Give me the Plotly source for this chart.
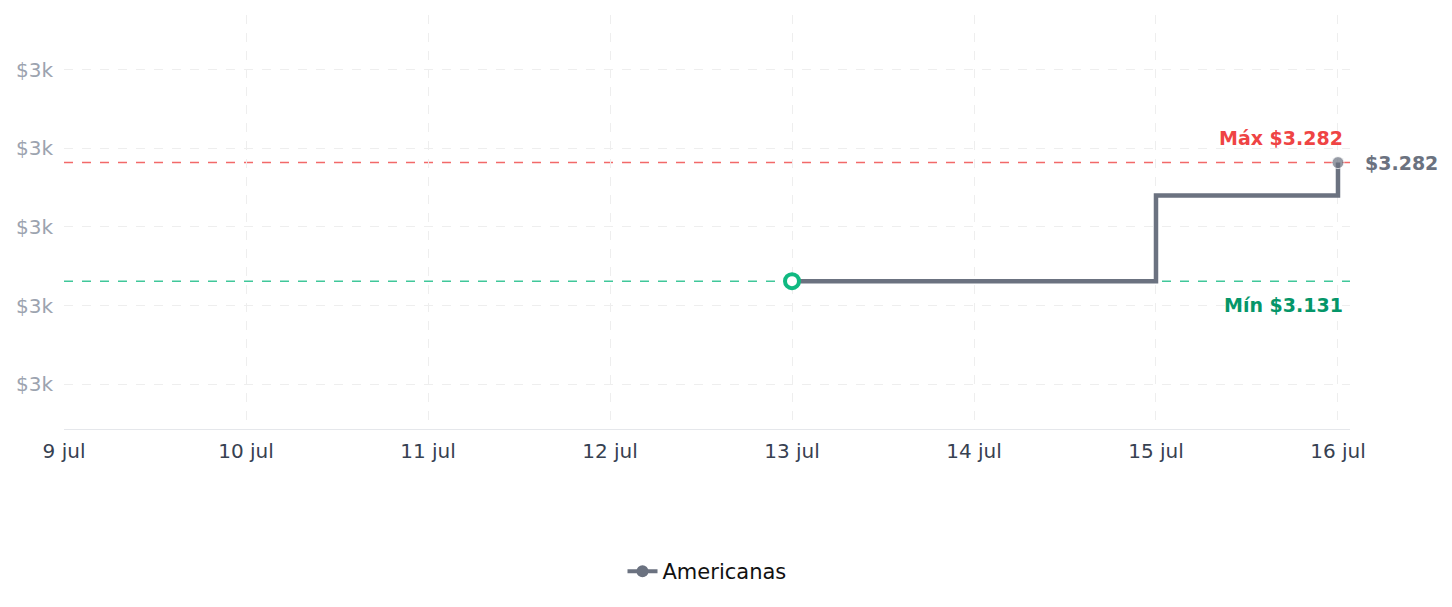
import plotly.graph_objects as go

dates = ["2024-07-13", "2024-07-15", "2024-07-16"]
prices = [3131, 3240, 3282]
store = "Americanas"
max_price = 3282
min_price = 3131
x_tick_vals = ["2024-07-09", "2024-07-10", "2024-07-11", "2024-07-12",
               "2024-07-13", "2024-07-14", "2024-07-15", "2024-07-16"]
x_tick_text = ["9 jul", "10 jul", "11 jul", "12 jul", "13 jul", "14 jul", "15 jul", "16 jul"]
y_tick_vals = [3000, 3100, 3200, 3300, 3400]
y_tick_text = ["$3k", "$3k", "$3k", "$3k", "$3k"]

FONT = "DejaVu Sans"
GRAY = "#6b7280"

fig = go.Figure()

fig.add_trace(go.Scatter(
    x=dates, y=prices, mode="lines+markers", name=store, showlegend=False,
    line=dict(color=GRAY, width=4.5, shape="hv"),
    marker=dict(color=GRAY, size=[0, 0, 12]),
))
fig.add_trace(go.Scatter(
    x=[dates[0]], y=[prices[0]], mode="markers", showlegend=False,
    marker=dict(color="white", size=14, line=dict(color="#10b981", width=4)),
    hoverinfo="skip",
))
# legend entry
fig.add_trace(go.Scatter(
    x=[None], y=[None], mode="lines+markers", name=store,
    line=dict(color=GRAY, width=4), marker=dict(color=GRAY, size=12),
))

fig.add_shape(type="line", xref="paper", yref="y", x0=0, x1=1, y0=max_price, y1=max_price,
              line=dict(color="rgba(239,68,68,0.8)", width=1.5, dash="dash"), layer="below")
fig.add_shape(type="line", xref="paper", yref="y", x0=0, x1=1, y0=min_price, y1=min_price,
              line=dict(color="rgba(16,185,129,0.8)", width=1.5, dash="dash"), layer="below")

fig.add_annotation(x=dates[-1], y=max_price, xref="x", yref="y", text="Máx $3.282",
                   showarrow=False, xanchor="right", yanchor="middle", xshift=7, yshift=25,
                   font=dict(family=FONT, size=19, color="#ef4444", weight="bold"))
fig.add_annotation(x=dates[-1], y=min_price, xref="x", yref="y", text="Mín $3.131",
                   showarrow=False, xanchor="right", yanchor="middle", xshift=7, yshift=-24,
                   font=dict(family=FONT, size=19, color="#059669", weight="bold"))
fig.add_annotation(x=dates[-1], y=prices[-1], xref="x", yref="y", text="$3.282",
                   showarrow=False, xanchor="left", yanchor="middle", xshift=25,
                   font=dict(family=FONT, size=19, color=GRAY, weight="bold"))

fig.update_layout(
    width=1452, height=607,
    margin=dict(l=64, r=102, t=15, b=178),
    paper_bgcolor="white", plot_bgcolor="white",
    font=dict(family=FONT),
    showlegend=True,
    legend=dict(orientation="h", x=0.5, xanchor="center", y=-0.295, yanchor="top",
                font=dict(family=FONT, size=21, color="#111111")),
    xaxis=dict(
        type="date",
        range=["2024-07-09", "2024-07-16 01:35"],
        tickvals=x_tick_vals, ticktext=x_tick_text,
        showgrid=True, gridcolor="#eeeeee", griddash="dash", gridwidth=1,
        showline=True, linecolor="#e5e7eb", linewidth=1,
        ticks="", zeroline=False, ticklabelstandoff=4,
        tickfont=dict(family=FONT, size=20, color="#374151"),
    ),
    yaxis=dict(
        range=[2942.7, 3470],
        tickvals=y_tick_vals, ticktext=y_tick_text,
        showgrid=True, gridcolor="#eeeeee", griddash="dash", gridwidth=1,
        showline=False, ticks="", zeroline=False, ticklabelstandoff=10,
        tickfont=dict(family=FONT, size=20, color="#9ca3af"),
    ),
)

fig.write_html("out.html")
